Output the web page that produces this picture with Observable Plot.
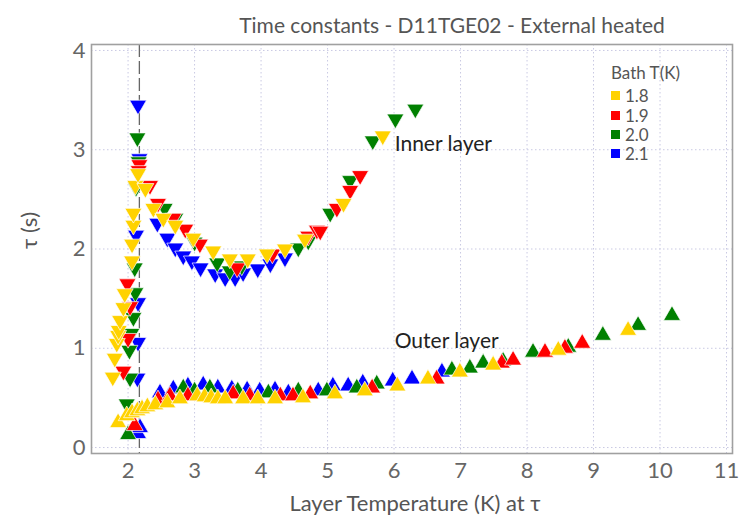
<!DOCTYPE html>
<html><head><meta charset="utf-8">
<script src="https://cdn.jsdelivr.net/npm/d3@7"></script>
<script src="https://cdn.jsdelivr.net/npm/@observablehq/plot@0.6"></script>
<style>
body{margin:0;background:#fff;}
#wrap{position:relative;width:748px;height:520px;overflow:hidden;}
#legend{position:absolute;left:611px;top:63px;font-family:Lato,sans-serif;color:#555;font-size:17px;line-height:19.3px;}
#legend .t{margin-bottom:4px;}
#legend .i{display:flex;align-items:center;}
#legend .s{width:9px;height:9px;margin-right:5px;}
</style></head><body><div id="wrap"><div id="legend"></div></div>
<script>
// ---- data (T in K, tau in s) ----
const bathTemps = ["1.8", "1.9", "2.0", "2.1"];
const bathColors = ["#FFD200", "#FF0000", "#008000", "#0000FF"];

const inner18 = [[1.77,0.71],[1.80,0.90],[1.83,1.05],[1.85,1.13],[1.86,1.18],[1.88,1.28],[1.93,1.41],[1.95,1.55],[2.06,1.88],[2.06,2.05],[2.08,2.24],[2.08,2.36],[2.11,2.64],[2.15,2.76],[2.26,2.61],[2.38,2.41],[2.53,2.31],[2.71,2.24],[2.98,2.11],[3.28,1.98],[3.53,1.90],[3.80,1.90],[4.09,1.95],[4.36,2.00],[4.66,2.10],[5.24,2.46],[5.83,3.14]];
const inner19 = [[2.17,2.85],[2.16,2.79],[1.99,1.65],[2.03,1.42],[2.00,1.10],[1.93,0.77],[2.33,2.64],[2.45,2.46],[2.68,2.31],[2.86,2.20],[3.08,2.05],[3.64,1.81],[4.17,1.95],[4.71,2.13],[4.84,2.19],[4.89,2.18],[5.14,2.41],[5.34,2.59],[5.49,2.74]];
const inner20 = [[2.14,3.12],[2.16,2.88],[2.10,1.81],[2.11,1.56],[2.08,1.31],[2.05,1.15],[2.02,0.98],[2.03,0.70],[1.98,0.44],[2.12,2.62],[2.55,2.41],[2.71,2.31],[3.00,2.07],[3.34,1.86],[3.53,1.78],[3.71,1.83],[4.56,2.01],[4.71,2.08],[5.04,2.36],[5.34,2.69],[5.68,3.09],[6.02,3.31],[6.32,3.41]];
const inner21 = [[2.15,3.45],[2.17,2.91],[2.12,2.14],[2.15,1.46],[2.15,1.06],[2.14,0.70],[2.44,2.26],[2.59,2.11],[2.71,2.01],[2.83,1.93],[2.96,1.88],[3.09,1.81],[3.31,1.75],[3.46,1.71],[3.61,1.71],[3.73,1.76],[3.95,1.80],[4.14,1.85],[4.36,1.91]];

const outer18 = [[1.85,0.25],[1.98,0.32],[2.06,0.35],[2.14,0.37],[2.21,0.39],[2.29,0.41],[2.41,0.43],[2.59,0.45],[2.78,0.49],[3.04,0.52],[3.15,0.51],[3.25,0.50],[3.35,0.49],[3.46,0.49],[3.73,0.49],[3.95,0.49],[4.21,0.49],[4.63,0.50],[5.11,0.54],[5.56,0.57],[6.05,0.62],[6.51,0.69],[6.99,0.76],[7.49,0.83],[8.47,0.98],[9.52,1.18]];
const outer19 = [[2.10,0.22],[2.45,0.48],[2.63,0.52],[2.90,0.52],[3.58,0.54],[3.83,0.52],[4.29,0.52],[4.48,0.52],[4.74,0.54],[5.67,0.60],[6.64,0.69],[7.62,0.85],[7.79,0.88],[8.27,0.96],[8.57,1.00],[8.83,1.05]];
const outer20 = [[2.00,0.13],[2.83,0.60],[3.00,0.57],[3.23,0.60],[3.65,0.57],[4.11,0.55],[4.56,0.57],[4.99,0.57],[5.44,0.60],[5.74,0.64],[6.87,0.78],[7.14,0.80],[7.34,0.85],[7.64,0.87],[8.09,0.96],[8.62,1.01],[9.14,1.13],[9.67,1.23],[10.18,1.33]];
const outer21 = [[2.15,0.14],[2.18,0.20],[2.48,0.55],[2.68,0.59],[2.90,0.62],[3.13,0.63],[3.35,0.60],[3.56,0.59],[3.79,0.58],[3.98,0.57],[4.21,0.58],[4.41,0.55],[4.86,0.57],[5.08,0.62],[5.31,0.62],[5.53,0.65],[5.98,0.67],[6.27,0.69],[6.72,0.76]];

const xTicks = [2, 3, 4, 5, 6, 7, 8, 9, 10, 11];
const yTicks = [0, 1, 2, 3, 4];
const lambdaT = [2.17];
const annotations = [{x: 6.01, y: 3.06, text: "Inner layer"}, {x: 6.01, y: 1.07, text: "Outer layer"}];
const titleText = "Time constants - D11TGE02 - External heated";
const xLabel = "Layer Temperature (K) at τ";
const yLabel = "τ (s)";
const legendTitle = "Bath T(K)";

// ---- build rows (drawn 2.1, 2.0, 1.9, 1.8 so yellow is on top) ----
function rows(list, bath) { return list.map(([T, tau]) => ({T, tau, bath})); }
const innerRows = [...rows(inner21,"2.1"), ...rows(inner20,"2.0"), ...rows(inner19,"1.9"), ...rows(inner18,"1.8")];
const outerRows = [...rows(outer21,"2.1"), ...rows(outer20,"2.0"), ...rows(outer19,"1.9"), ...rows(outer18,"1.8")];

const sqrt3 = Math.sqrt(3);
const triangleDown = {
  draw(context, size) {
    const y = Math.sqrt(size / (sqrt3 * 3));
    context.moveTo(0, y * 2);
    context.lineTo(-sqrt3 * y, -y);
    context.lineTo(sqrt3 * y, -y);
    context.closePath();
  }
};

const font = "Lato, 'Open Sans', sans-serif";
const chart = Plot.plot({
  width: 748, height: 520,
  marginLeft: 91, marginRight: 16, marginTop: 44, marginBottom: 67,
  x: {domain: [1.45, 11.09], label: null},
  y: {domain: [-0.06, 4.06], label: null},
  color: {domain: bathTemps, range: bathColors},
  style: {fontFamily: font, background: "#fff", color: "#666"},
  marks: [
    Plot.gridX(xTicks, {stroke: "#c9c9e3", strokeOpacity: 1, strokeDasharray: "1.5,2.5"}),
    Plot.gridY(yTicks, {stroke: "#c9c9e3", strokeOpacity: 1, strokeDasharray: "1.5,2.5"}),
    Plot.ruleX(lambdaT, {stroke: "#666", strokeWidth: 1.3, strokeDasharray: "13,4"}),
    Plot.dot(innerRows, {x: "T", y: "tau", fill: "bath", symbol: triangleDown, r: 6.3, stroke: "white", strokeWidth: 0.7}),
    Plot.dot(outerRows, {x: "T", y: "tau", fill: "bath", symbol: "triangle", r: 6.3, stroke: "white", strokeWidth: 0.7}),
    Plot.frame({stroke: "#a0a0a0", strokeWidth: 1.6}),
    Plot.axisX(xTicks, {tickSize: 0, tickPadding: 9, fontSize: 22, fill: "#666", label: null, tickFormat: d3.format("d")}),
    Plot.axisY(yTicks, {tickSize: 0, tickPadding: 6, fontSize: 22, fill: "#666", label: null, tickFormat: d3.format("d")}),
    Plot.text(annotations, {x: "x", y: "y", text: "text", textAnchor: "start", fontSize: 21, fill: "#222"}),
    Plot.text([titleText], {frameAnchor: "top", dx: 40, dy: -26, fontSize: 21, fill: "#555"}),
    Plot.text([xLabel], {frameAnchor: "bottom", dx: 3, dy: 57, fontSize: 22, fill: "#555"}),
    Plot.text([yLabel], {frameAnchor: "left", dx: -62, rotate: -90, fontSize: 22, fill: "#555"})
  ]
});
const wrap = document.getElementById("wrap");
wrap.insertBefore(chart, wrap.firstChild);

const legend = document.getElementById("legend");
legend.innerHTML = `<div class="t">${legendTitle}</div>` +
  bathTemps.map((b, i) => `<div class="i"><span class="s" style="background:${bathColors[i]}"></span>${b}</div>`).join("");
</script>
</body></html>
